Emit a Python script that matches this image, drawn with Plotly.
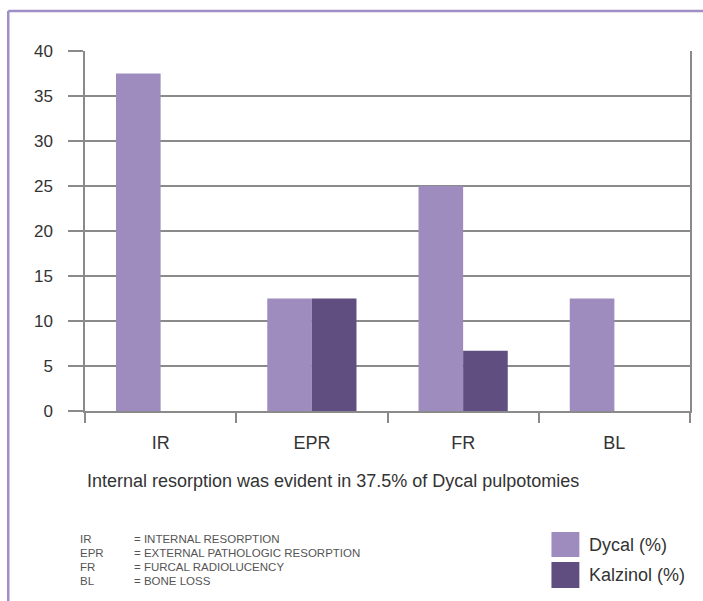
import plotly.graph_objects as go

categories = ["IR", "EPR", "FR", "BL"]
dycal = [37.5, 12.5, 25.0, 12.5]
kalzinol = [0.0, 12.5, 6.7, 0.0]
series_names = ["Dycal (%)", "Kalzinol (%)"]
y_ticks = [0, 5, 10, 15, 20, 25, 30, 35, 40]
note = "Internal resorption was evident in 37.5% of Dycal pulpotomies"
abbr_keys = ["IR", "EPR", "FR", "BL"]
abbr_vals = ["= INTERNAL RESORPTION", "= EXTERNAL PATHOLOGIC RESORPTION",
             "= FURCAL RADIOLUCENCY", "= BONE LOSS"]

W, H = 703, 601
L, R, T, B = 85, 11, 51, 190
PW, PH = W - L - R, H - T - B
C1, C2 = "#9e8cbf", "#604e80"
GRID = "#8a8a8a"
TXT = "#333333"
FONT = "Arial, Liberation Sans, sans-serif"


def px(x):
    return (x - L) / PW


def py(y):
    return 1 - (y - T) / PH


fig = go.Figure()
fig.add_trace(go.Bar(x=categories, y=dycal, name=series_names[0], marker=dict(color=C1, line=dict(width=0))))
fig.add_trace(go.Bar(x=categories, y=kalzinol, name=series_names[1], marker=dict(color=C2, line=dict(width=0))))

shapes = [
    dict(type="line", xref="paper", yref="paper", x0=px(8), x1=px(W + 5), y0=py(11), y1=py(11),
         line=dict(color="#a08fc6", width=2.5)),
    dict(type="line", xref="paper", yref="paper", x0=px(8), x1=px(8), y0=py(11), y1=py(H + 5),
         line=dict(color="#a08fc6", width=2.5)),
]
annotations = [
    dict(text=note, xref="paper", yref="paper", x=px(85), y=py(481), showarrow=False,
         font=dict(size=18, color=TXT, family=FONT), xanchor="left", yanchor="middle"),
]
rows = [539, 553, 567, 581]
for k, v, yy in zip(abbr_keys, abbr_vals, rows):
    annotations.append(dict(text=k, xref="paper", yref="paper", x=px(78), y=py(yy), showarrow=False,
                            font=dict(size=11.5, color="#555555", family=FONT), xanchor="left", yanchor="middle"))
    annotations.append(dict(text=v, xref="paper", yref="paper", x=px(132), y=py(yy), showarrow=False,
                            font=dict(size=11.5, color="#555555", family=FONT), xanchor="left", yanchor="middle"))

for name, col, (y0, y1) in zip(series_names, [C1, C2], [(532, 557), (562, 588)]):
    shapes.append(dict(type="rect", xref="paper", yref="paper", x0=px(553), x1=px(581), y0=py(y1), y1=py(y0),
                       fillcolor=col, line=dict(width=0)))
    annotations.append(dict(text=name, xref="paper", yref="paper", x=px(589), y=py((y0 + y1) / 2), showarrow=False,
                            font=dict(size=18, color=TXT, family=FONT), xanchor="left", yanchor="middle"))

fig.update_layout(
    width=W, height=H,
    margin=dict(l=L, r=R, t=T, b=B),
    paper_bgcolor="white", plot_bgcolor="white",
    barmode="group", bargap=0.41, bargroupgap=0,
    showlegend=False,
    shapes=shapes, annotations=annotations,
    font=dict(family=FONT, color=TXT),
    xaxis=dict(
        tickson="boundaries", ticks="outside", ticklen=10, tickcolor=GRID, tickwidth=1.5,
        showgrid=False, showline=True, linecolor=GRID, linewidth=1.5,
        tickfont=dict(size=18, color=TXT), ticklabelstandoff=15, fixedrange=True,
    ),
    yaxis=dict(
        range=[0, 40], tickvals=y_ticks, ticks="outside", ticklen=15, tickcolor=GRID, tickwidth=1.5,
        showgrid=True, gridcolor=GRID, gridwidth=1.5, zeroline=False,
        showline=True, mirror=True, linecolor=GRID, linewidth=1.5,
        tickfont=dict(size=17, color=TXT), ticklabelstandoff=12, fixedrange=True,
    ),
)

fig.write_html("out.html", config={"displayModeBar": False},
               post_script="document.body.style.margin='0';")
